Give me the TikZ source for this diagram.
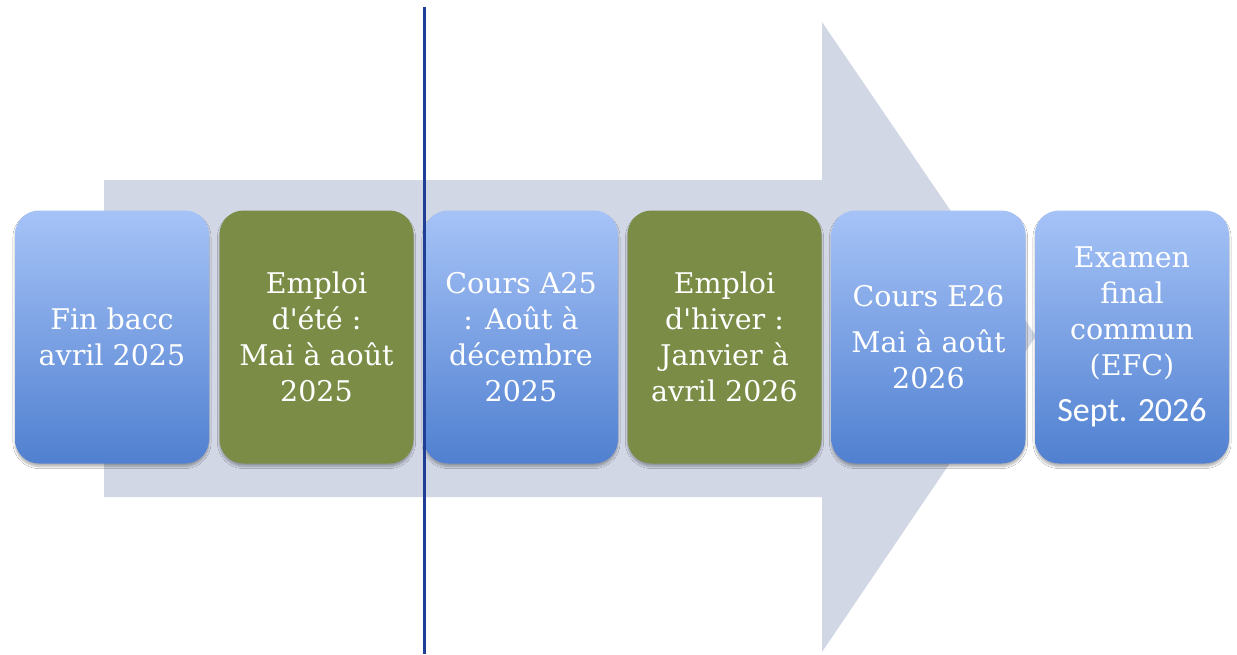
\documentclass[tikz,border=0pt]{standalone}
\usepackage{fontspec}
\setmainfont[Ligatures=TeXOff]{DejaVu Serif}
\newfontfamily\carlito{Carlito}
\usetikzlibrary{shadows.blur}
\definecolor{arrowfill}{RGB}{209,215,229}
\definecolor{bluetop}{RGB}{166,195,247}
\definecolor{bluebot}{RGB}{80,128,208}
\definecolor{greenbox}{RGB}{122,140,69}
\definecolor{linecol}{RGB}{31,62,150}
\tikzset{
  card/.style={minimum width=194pt, minimum height=253pt, rounded corners=24pt,
    text=white, align=center, inner sep=0pt,
    font=\fontsize{28.5}{36}\selectfont,
    blur shadow={shadow xshift=0pt, shadow yshift=-3pt, shadow opacity=30, shadow blur steps=6}},
  bluecard/.style={card, top color=bluetop, bottom color=bluebot},
  greencard/.style={card, fill=greenbox},
}
\begin{document}
\begin{tikzpicture}[x=1pt,y=-1pt]
\useasboundingbox (0,0) rectangle (1237,654);
\fill[white] (0,0) rectangle (1237,654);
% big arrow
\fill[arrowfill] (104,180) -- (822,180) -- (822,22) -- (1036,336) -- (822,652) -- (822,497) -- (104,497) -- cycle;
% boxes
\node[bluecard] (b1) at (112,337) {Fin bacc\\avril 2025};
\node[greencard] (b2) at (316.5,337) {Emploi\\d'été :\\Mai à août\\2025};
\node[bluecard] (b3) at (521,337) {Cours A25\\: Août à\\décembre\\2025};
\node[greencard] (b4) at (724.5,337) {Emploi\\d'hiver :\\Janvier à\\avril 2026};
\node[bluecard] (b5) at (928.5,337) {Cours E26\\[10pt]Mai à août\\2026};
\node[bluecard] (b6) at (1132,337) {Examen\\final\\commun\\(EFC)\\[10pt]{\carlito\fontsize{34}{36}\selectfont Sept. 2026}};
% vertical line
\coordinate (ltop) at (424,7);
\coordinate (lbot) at (424,654);
\draw[linecol, line width=3pt] (ltop) -- (lbot);
\end{tikzpicture}
\end{document}
